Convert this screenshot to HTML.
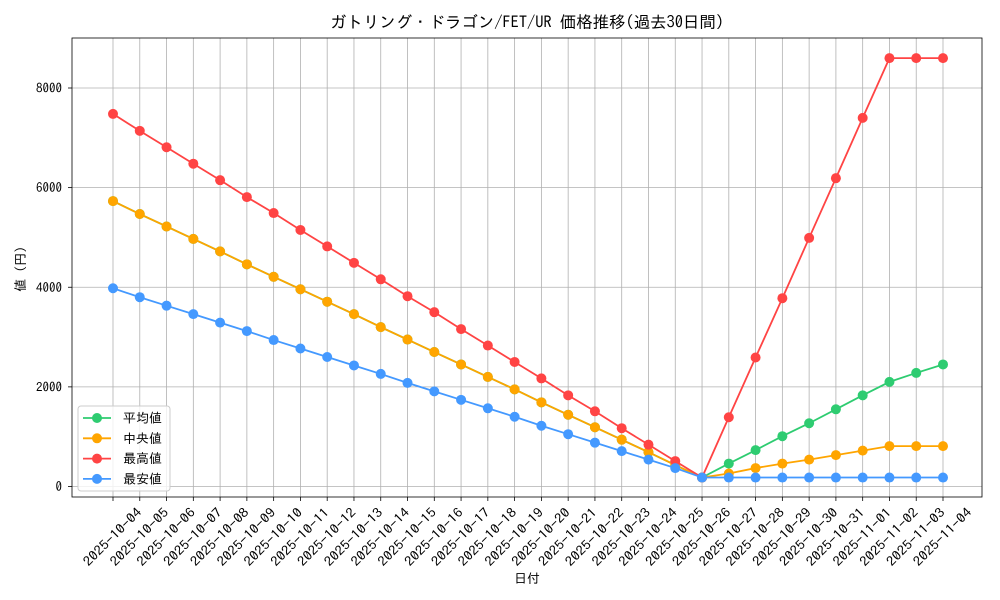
<!DOCTYPE html>
<html><head><meta charset="utf-8"><style>
body{margin:0;background:#fff}
svg{display:block;font-family:"IPAGothic","Noto Sans CJK JP","DejaVu Sans",sans-serif}
</style></head><body>
<svg id="chart" width="1000" height="600" viewBox="0 0 1000 600" xmlns="http://www.w3.org/2000/svg">
<rect width="1000" height="600" fill="#fff"/>
<text x="527" y="28" text-anchor="middle" font-size="16.5" textLength="394">ガトリング・ドラゴン/FET/UR 価格推移(過去30日間)</text>
<g id="grid"></g><g id="series"></g><g id="axes"></g>
<text x="527" y="583" text-anchor="middle" font-size="13">日付</text>
<text transform="translate(25,269) rotate(-90)" text-anchor="middle" font-size="13">値 (円)</text>
<g id="legend"></g>
</svg>
<script>
const dates=["2025-10-04","2025-10-05","2025-10-06","2025-10-07","2025-10-08","2025-10-09","2025-10-10","2025-10-11","2025-10-12","2025-10-13","2025-10-14","2025-10-15","2025-10-16","2025-10-17","2025-10-18","2025-10-19","2025-10-20","2025-10-21","2025-10-22","2025-10-23","2025-10-24","2025-10-25","2025-10-26","2025-10-27","2025-10-28","2025-10-29","2025-10-30","2025-10-31","2025-11-01","2025-11-02","2025-11-03","2025-11-04"];
const meanVals=[5730,5470,5220,4970,4720,4460,4210,3960,3710,3460,3200,2950,2700,2450,2200,1950,1690,1440,1190,940,690,430,180,460,730,1010,1270,1550,1830,2100,2280,2450];
const medianVals=[5730,5470,5220,4970,4720,4460,4210,3960,3710,3460,3200,2950,2700,2450,2200,1950,1690,1440,1190,940,690,430,180,260,370,460,540,630,720,810,810,810];
const maxVals=[7480,7140,6810,6480,6150,5810,5490,5150,4820,4490,4160,3820,3500,3160,2830,2500,2170,1830,1510,1170,840,510,180,1390,2590,3780,4990,6190,7400,8600,8600,8600];
const minVals=[3980,3800,3630,3460,3290,3120,2940,2770,2600,2430,2260,2080,1910,1740,1570,1400,1220,1050,880,710,540,370,180,180,180,180,180,180,180,180,180,180];
const yTicks=[0,2000,4000,6000,8000];
const seriesNames=["平均値","中央値","最高値","最安値"];
const NS="http://www.w3.org/2000/svg";
const L=72,R=982,T=38,B=497;
const n=dates.length;
const x0=113,x1=943;
function xs(i){return x0+(x1-x0)*i/(n-1);}
function ys(v){return 486.5-v*(486.5-88)/8000;}
function mk(tag,attrs,parent){const e=document.createElementNS(NS,tag);for(const k in attrs)e.setAttribute(k,attrs[k]);parent.appendChild(e);return e;}
const grid=document.getElementById('grid'),axes=document.getElementById('axes'),ser=document.getElementById('series'),leg=document.getElementById('legend');
dates.forEach((d,i)=>{
  const g=mk('line',{x1:xs(i),x2:xs(i),y1:T,y2:B,stroke:'#b0b0b0','stroke-width':0.8},grid);
  
  
  mk('line',{x1:xs(i),x2:xs(i),y1:B,y2:B+4,stroke:'#000','stroke-width':0.8},axes);
  const cx=xs(i)-0.5,cy=537;
  const t=mk('text',{x:cx,y:cy+4.5,'text-anchor':'middle','font-size':13,textLength:76,lengthAdjust:'spacingAndGlyphs',transform:`rotate(-45 ${cx} ${cy})`},axes);
  t.textContent=d;
  
  
});
yTicks.forEach(v=>{
  const g=mk('line',{x1:L,x2:R,y1:ys(v),y2:ys(v),stroke:'#b0b0b0','stroke-width':0.8},grid);
  
  
  mk('line',{x1:L-4,x2:L,y1:ys(v),y2:ys(v),stroke:'#000','stroke-width':0.8},axes);
  const t=mk('text',{x:L-10,y:ys(v)+4.5,'text-anchor':'end','font-size':13},axes);
  t.textContent=v;
  
  
});
const frame=mk('rect',{x:L,y:T,width:R-L,height:B-T,fill:'none',stroke:'#000','stroke-width':0.8},axes);


const data=[meanVals,medianVals,maxVals,minVals];
const colors=["#2ecc71","#ffa500","#ff4444","#4499ff"];
const keys=["mean","median","max","min"];
data.forEach((vals,s)=>{
  const g=mk('g',{},ser);
  
  
  mk('polyline',{points:vals.map((v,i)=>xs(i)+','+ys(v)).join(' '),fill:'none',stroke:colors[s],'stroke-width':1.8},g);
  vals.forEach((v,i)=>{
    const c=mk('circle',{cx:xs(i),cy:ys(v),r:5,fill:colors[s]},g);
    
    
  });
});
const lb=mk('rect',{x:78,y:406,width:92,height:85,rx:3,fill:'#fff','fill-opacity':0.8,stroke:'#ccc'},leg);


seriesNames.forEach((nm,s)=>{
  const y=418+s*20.3;
  const g=mk('g',{},leg);
  
  
  mk('line',{x1:83,x2:111,y1:y,y2:y,stroke:colors[s],'stroke-width':1.8},g);
  mk('circle',{cx:97,cy:y,r:5,fill:colors[s]},g);
  const t=mk('text',{x:123,y:y+4.5,'font-size':13},g);
  t.textContent=nm;
});
</script>
</body></html>
